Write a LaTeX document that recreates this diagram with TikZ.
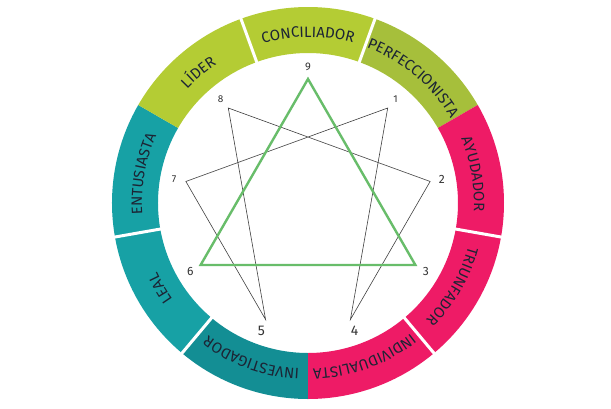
\documentclass[tikz,border=0pt]{standalone}
\usepackage{fontspec}
\setsansfont{Fira Sans}
\usepackage{tikz}
\usetikzlibrary{decorations.text}

\definecolor{verdeclaro}{HTML}{B4CC34}
\definecolor{verdeoliva}{HTML}{A6BF3B}
\definecolor{rosa}{HTML}{EE1B66}
\definecolor{turquesa}{HTML}{17A1A5}
\definecolor{turquesaosc}{HTML}{138E94}
\definecolor{verdetri}{HTML}{68BD6A}
\definecolor{tinta}{HTML}{1C2434}

\newcommand{\ringfont}{\sffamily\fontsize{15}{15}\selectfont}

\tikzset{
	hexad/.style={draw=black!75,line width=0.6},
	triad/.style={draw=verdetri,line width=2.4},
	num/.style={text=black!80,inner sep=0pt}
}

\begin{document}
\begin{tikzpicture}[x=1pt,y=1pt]
	\fill[white] (-308,-205) rectangle (303,203);
	% anillo de tipos
	\foreach \a/\c in {90/verdeclaro,50/verdeoliva,10/rosa,-30/rosa,-70/rosa,-110/turquesaosc,-150/turquesa,170/turquesa,130/verdeclaro}
	\fill[\c] ({\a+20}:196) arc[start angle=\a+20,end angle=\a-20,radius=196] -- ({\a-20}:150) arc[start angle=\a-20,end angle=\a+20,radius=150] -- cycle;
	\foreach \a in {110,70,-10,-50,-130,-170}
	\draw[white,line width=3] (\a:147) -- (\a:199);
	\foreach \a/\t in {90/CONCILIADOR,50/PERFECCIONISTA,10/AYUDADOR,-30/TRIUNFADOR,-70/INDIVIDUALISTA,-110/INVESTIGADOR,-150/LEAL,170/ENTUSIASTA,130/LÍDER}
	\path[decorate,decoration={text along path,text align=center,text color=tinta,text/.expanded={|\noexpand\ringfont|\t}}] ({\a+20}:166) arc[start angle=\a+20,end angle=\a-20,radius=166];
	% puntos del eneagrama
	\foreach \k in {1,...,9}
	\coordinate (p\k) at ({90-40*\k}:124);
	\foreach \k/\s in {1/10,2/12,3/12,4/14,5/14,6/12,7/10,8/10,9/11}
	\node[num,font=\sffamily\fontsize{\s}{\s}\selectfont] (n\k) at ({90-40*\k}:136) {\k};
	\draw[hexad] (p1) -- (p4) -- (p2) -- (p8) -- (p5) -- (p7) -- cycle;
	\draw[triad] (p9) -- (p3) -- (p6) -- cycle;
\end{tikzpicture}
\end{document}
